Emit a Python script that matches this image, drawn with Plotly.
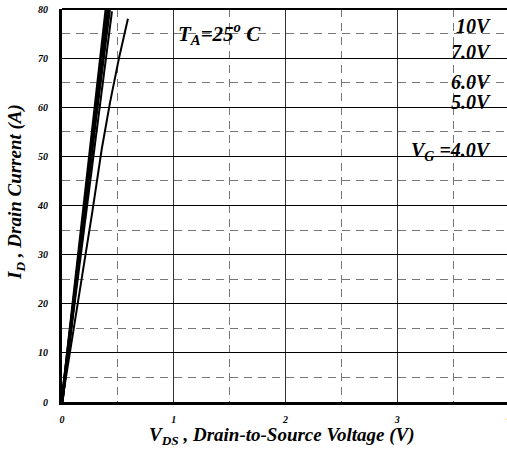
import plotly.graph_objects as go

# Output characteristics
vds_10v = [0.0, 0.10, 0.20, 0.30, 0.395]
id_10v = [0.0, 20.3, 40.6, 60.8, 80.0]
vds_7v = [0.0, 0.10, 0.20, 0.30, 0.41]
id_7v = [0.0, 19.8, 39.6, 59.3, 80.0]
vds_6v = [0.0, 0.10, 0.20, 0.30, 0.425]
id_6v = [0.0, 19.3, 38.5, 57.5, 80.0]
vds_5v = [0.0, 0.10, 0.20, 0.30, 0.447]
id_5v = [0.0, 17.8, 35.0, 52.5, 79.5]
vds_4v = [0.0, 0.10, 0.19, 0.27, 0.355, 0.43, 0.51, 0.59]
id_4v = [0.0, 14.0, 26.9, 38.5, 51.4, 61.0, 70.0, 78.0]

curve_labels = ["10V", "7.0V", "6.0V", "5.0V", "V<sub>G</sub> =4.0V"]
label_y = [76.5, 71.2, 65.2, 61.0, 51.0]

x_ticks = [0, 1, 2, 3, 4]
y_ticks = [0, 10, 20, 30, 40, 50, 60, 70, 80]

FONT = "Liberation Serif"
L, T, B = 62, 9, 60
PW = 507 - L
PH = 462 - T - B

fig = go.Figure()
series = [
    (vds_10v, id_10v, 3.0),
    (vds_7v, id_7v, 3.0),
    (vds_6v, id_6v, 3.0),
    (vds_5v, id_5v, 2.0),
    (vds_4v, id_4v, 2.0),
]
for xs, ys, w in series:
    fig.add_trace(go.Scatter(x=xs, y=ys, mode="lines",
                             line=dict(color="black", width=w),
                             showlegend=False, hoverinfo="skip"))

for txt, yv in zip(curve_labels, label_y):
    fig.add_annotation(x=(493 - L) / PW, xref="paper", y=yv, yref="y",
                       text=txt, showarrow=False, xanchor="right", yanchor="middle",
                       font=dict(family=FONT, size=20, color="black",
                                 weight="bold", style="italic"))

fig.add_annotation(x=(176 - L) / PW, xref="paper", y=75, yref="y",
                   text="T<sub>A</sub>=25<sup>o</sup> C", showarrow=False,
                   xanchor="left", yanchor="middle",
                   font=dict(family=FONT, size=21, color="black",
                             weight="bold", style="italic"))

# partially visible "4" tick label at the cut-off right edge
fig.add_annotation(x=(509 - L) / PW, xref="paper", y=0, yref="paper",
                   yshift=-15, text="4", showarrow=False,
                   xanchor="center", yanchor="middle",
                   font=dict(family=FONT, size=10, color="black",
                             weight="bold", style="italic"))

# axis titles
fig.add_annotation(x=(282 - L) / PW, xref="paper", y=-(436 - T - PH) / PH, yref="paper",
                   text="V<sub>DS</sub> , Drain-to-Source Voltage (V)", showarrow=False,
                   xanchor="center", yanchor="middle",
                   font=dict(family=FONT, size=19, color="black",
                             weight="bold", style="italic"))
fig.add_annotation(x=-(L - 16) / PW, xref="paper", y=1 - (192 - T) / PH, yref="paper",
                   text="I<sub>D</sub> , Drain Current (A)", showarrow=False,
                   textangle=-90, xanchor="center", yanchor="middle",
                   font=dict(family=FONT, size=19, color="black",
                             weight="bold", style="italic"))

fig.update_layout(
    width=507, height=462,
    margin=dict(l=L, r=0, t=T, b=B),
    paper_bgcolor="white", plot_bgcolor="white",
    font=dict(family=FONT, color="black"),
    xaxis=dict(
        range=[0, (507 - 62) / 111.75],
        tickvals=x_ticks[:-1], ticktext=[str(v) for v in x_ticks[:-1]],
        tickfont=dict(family=FONT, size=10, weight="bold", style="italic"),
        ticks="", ticklabelstandoff=6,
        showgrid=True, gridcolor="#333333", gridwidth=1,
        minor=dict(dtick=0.5, tick0=0, showgrid=True, gridcolor="#777777",
                   griddash="8px,6px", gridwidth=1),
        showline=True, linecolor="black", linewidth=3, mirror=False,
        zeroline=False,
    ),
    yaxis=dict(
        range=[0, 80],
        tickvals=y_ticks,
        tickfont=dict(family=FONT, size=10, weight="bold", style="italic"),
        ticks="", ticklabelstandoff=9,
        showgrid=True, gridcolor="black", gridwidth=1,
        minor=dict(dtick=5, tick0=0, showgrid=True, gridcolor="#777777",
                   griddash="8px,6px", gridwidth=1),
        showline=True, linecolor="black", linewidth=3, mirror=False,
        zeroline=False,
    ),
    shapes=[dict(type="line", xref="paper", yref="paper", x0=0, x1=1, y0=1, y1=1,
                 line=dict(color="black", width=2))],
)

fig.write_html("out.html")
